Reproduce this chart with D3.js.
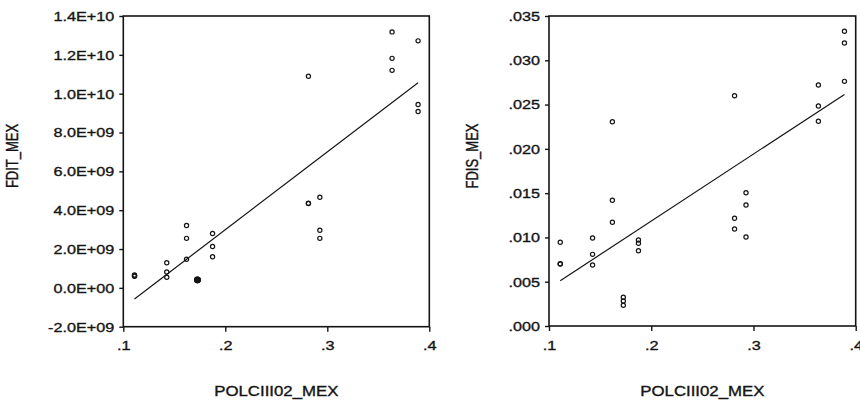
<!DOCTYPE html>
<html>
<head>
<meta charset="utf-8">
<script src="https://cdn.jsdelivr.net/npm/d3@7"></script>
<style>
  html, body { margin: 0; padding: 0; background: #fff; }
  svg { display: block; font-family: "Liberation Sans", Arial, sans-serif; }
</style>
</head>
<body>
<svg id="chart" width="860" height="400"></svg>
<script>
// ---- data ----
const polcIII02 = [
  0.111, 0.111, 0.111,
  0.1426, 0.1426, 0.1426,
  0.162, 0.162, 0.162,
  0.1727, 0.1727, 0.1727,
  0.1875, 0.1875, 0.1875,
  0.2815, 0.2815, 0.2815,
  0.2927, 0.2927, 0.2927,
  0.3635, 0.3635, 0.3635,
  0.389, 0.389, 0.389
];
const fditMex = [
  0.66e9, 0.62e9, 0.60e9,
  1.29e9, 0.82e9, 0.55e9,
  3.21e9, 2.55e9, 1.47e9,
  0.42e9, 0.41e9, 0.40e9,
  2.80e9, 2.13e9, 1.60e9,
  10.9e9, 4.36e9, 4.34e9,
  4.67e9, 2.97e9, 2.55e9,
  13.18e9, 11.82e9, 11.20e9,
  12.72e9, 9.44e9, 9.08e9
];
const fdisMex = [
  0.00945, 0.00703, 0.00700,
  0.00993, 0.00809, 0.00689,
  0.02306, 0.0142, 0.01171,
  0.00324, 0.00282, 0.00234,
  0.00971, 0.00934, 0.0085,
  0.0260, 0.01216, 0.01095,
  0.01505, 0.01366, 0.01005,
  0.02721, 0.02484, 0.02311,
  0.03327, 0.03195, 0.02762
];
// fitted regression line values at the ends of the x range
const fitFditEnds = [-0.57e9, 10.56e9];
const fitFdisEnds = [0.00511, 0.02615];

const xTickValues = [0.1, 0.2, 0.3, 0.4];
const xTickLabels = [".1", ".2", ".3", ".4"];
const fditTickValues = [-2e9, 0, 2e9, 4e9, 6e9, 8e9, 10e9, 12e9, 14e9];
const fditTickLabels = ["-2.0E+09", "0.0E+00", "2.0E+09", "4.0E+09", "6.0E+09", "8.0E+09", "1.0E+10", "1.2E+10", "1.4E+10"];
const fdisTickValues = [0, 0.005, 0.010, 0.015, 0.020, 0.025, 0.030, 0.035];
const fdisTickLabels = [".000", ".005", ".010", ".015", ".020", ".025", ".030", ".035"];

const xTitle = "POLCIII02_MEX";

// ---- drawing ----
const svg = d3.select("#chart");
const INK = "#141414";
const SX = 1.2; // horizontal stretch of the scanned original
const TEXT_STROKE = 0.35;

const panels = [
  { left: 123.3, right: 429.3, top: 16, bottom: 326.7, ys: fditMex, fit: fitFditEnds,
    yTicks: fditTickValues, yLabels: fditTickLabels, yTitle: "FDIT_MEX", yTitleX: 18 },
  { left: 549, right: 855.7, top: 16, bottom: 326, ys: fdisMex, fit: fitFdisEnds,
    yTicks: fdisTickValues, yLabels: fdisTickLabels, yTitle: "FDIS_MEX", yTitleX: 478 }
];

function inkText(sel) {
  return sel.attr("fill", INK).attr("stroke", INK).attr("stroke-width", TEXT_STROKE);
}

panels.forEach(p => {
  const x = d3.scaleLinear().domain([0.1, 0.4]).range([p.left, p.right]);
  const y = d3.scaleLinear()
    .domain([p.yTicks[0], p.yTicks[p.yTicks.length - 1]])
    .range([p.bottom, p.top]);
  const g = svg.append("g");

  // frame
  g.append("rect")
    .attr("x", p.left).attr("y", p.top)
    .attr("width", p.right - p.left).attr("height", p.bottom - p.top)
    .attr("fill", "none").attr("stroke", INK).attr("stroke-width", 1.6);

  // y axis
  const yAxis = d3.axisLeft(y).tickValues(p.yTicks)
    .tickFormat((d, i) => p.yLabels[i]).tickSizeInner(4).tickSizeOuter(0).tickPadding(5);
  const ya = g.append("g").attr("transform", `translate(${p.left},0)`).call(yAxis);
  ya.select(".domain").remove();
  ya.selectAll(".tick line").attr("stroke", INK).attr("stroke-width", 1.4);
  inkText(ya.selectAll(".tick text"))
    .attr("font-size", 13.5)
    .attr("font-family", "'Liberation Sans', Arial, sans-serif")
    .attr("x", -9 / SX)
    .attr("transform", `scale(${SX},1)`);

  // x axis
  const xAxis = d3.axisBottom(x).tickValues(xTickValues)
    .tickFormat((d, i) => xTickLabels[i]).tickSizeInner(5).tickSizeOuter(0).tickPadding(9);
  const xa = g.append("g").attr("transform", `translate(0,${p.bottom})`).call(xAxis);
  xa.select(".domain").remove();
  xa.selectAll(".tick line").attr("stroke", INK).attr("stroke-width", 1.4);
  inkText(xa.selectAll(".tick text"))
    .attr("font-size", 13.5)
    .attr("font-family", "'Liberation Sans', Arial, sans-serif")
    .attr("transform", `scale(${SX},1)`);

  // regression line
  const xExt = d3.extent(polcIII02);
  g.append("path")
    .datum([[xExt[0], p.fit[0]], [xExt[1], p.fit[1]]])
    .attr("d", d3.line().x(d => x(d[0])).y(d => y(d[1])))
    .attr("fill", "none").attr("stroke", INK).attr("stroke-width", 1.2);

  // points: coincident observations (>=2 others within 0.5px) print as a solid blot
  const pts = polcIII02.map((xv, i) => ({ px: x(xv), py: y(p.ys[i]) }));
  pts.forEach(a => {
    a.n = pts.filter(b => b !== a && Math.hypot(a.px - b.px, a.py - b.py) < 0.5).length;
  });
  g.selectAll("circle.pt").data(pts).join("circle")
    .attr("class", "pt")
    .attr("cx", d => d.px).attr("cy", d => d.py)
    .attr("r", d => d.n >= 2 ? 2.7 : 2.1)
    .attr("fill", d => d.n >= 2 ? INK : "none")
    .attr("stroke", INK).attr("stroke-width", 1.2);

  // titles
  inkText(svg.append("text"))
    .attr("transform", `translate(${p.yTitleX},156) scale(${SX},1) rotate(-90)`)
    .attr("text-anchor", "middle").attr("font-size", 13)
    .text(p.yTitle);
  inkText(svg.append("text"))
    .attr("transform", `translate(${(p.left + p.right) / 2},396) scale(${SX},1)`)
    .attr("text-anchor", "middle").attr("font-size", 14)
    .text(xTitle);
});
</script>
</body>
</html>
